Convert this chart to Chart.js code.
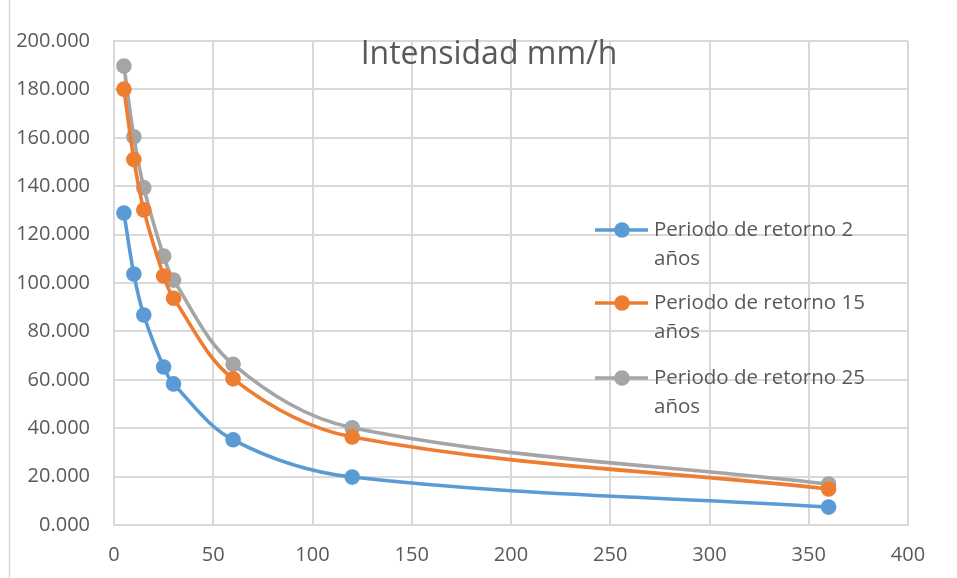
<!DOCTYPE html>
<html>
<head>
<meta charset="utf-8">
<script src="https://cdn.jsdelivr.net/npm/chart.js@4"></script>
<style>
html,body{margin:0;padding:0;background:#fff;}
#wrap{position:relative;width:957px;height:578px;}
</style>
</head>
<body>
<div id="wrap"><canvas id="c" width="957" height="578"></canvas></div>
<script>
const durations = [5, 10, 15, 25, 30, 60, 120, 360];
const seriesNames = ["Periodo de retorno 2 años", "Periodo de retorno 15 años", "Periodo de retorno 25 años"];
const legendLines = [["Periodo de retorno 2", "años"], ["Periodo de retorno 15", "años"], ["Periodo de retorno 25", "años"]];
const t2 = [128.9, 103.7, 86.8, 65.3, 58.3, 35.2, 19.8, 7.4];
const t15 = [180.1, 151.0, 130.2, 102.9, 93.7, 60.4, 36.4, 14.9];
const t25 = [189.7, 160.4, 139.4, 111.1, 101.2, 66.4, 40.2, 16.9];
const colors = ["#5b9bd5", "#ed7d31", "#a5a5a5"];
const chartTitle = "Intensidad mm/h";

const FONT = "'Open Sans', sans-serif";
const TXT = "#595959";

function pts(arr){ return durations.map((x,i)=>({x:x, y:arr[i]})); }
const seriesData = [t2, t15, t25];

const datasets = seriesData.map((arr,i)=>({
  label: seriesNames[i],
  data: pts(arr),
  borderColor: colors[i],
  backgroundColor: colors[i],
  borderWidth: 3.6,
  pointRadius: 7.8,
  pointHoverRadius: 7.8,
  pointBorderWidth: 0,
  showLine: true,
  tension: 0.35,
  fill: false
}));

const overlay = {
  id: 'overlay',
  beforeDraw(chart){
    const ctx = chart.ctx;
    ctx.save();
    ctx.fillStyle = '#fff';
    ctx.fillRect(0,0,chart.width,chart.height);
    ctx.strokeStyle = '#d9d9d9';
    ctx.lineWidth = 1.5;
    ctx.beginPath();
    ctx.moveTo(9.5,0); ctx.lineTo(9.5,chart.height);
    ctx.stroke();
    ctx.restore();
  },
  afterDatasetsDraw(chart){
    const ctx = chart.ctx;
    ctx.save();
    ctx.fillStyle = TXT;
    ctx.font = "32px " + FONT;
    ctx.textAlign = 'center';
    ctx.textBaseline = 'middle';
    ctx.fillText(chartTitle, 489, 55);
    const ys = [230, 303, 378];
    ctx.font = "20.5px " + FONT;
    ctx.textAlign = 'left';
    for (let i=0;i<3;i++){
      const y = ys[i];
      ctx.strokeStyle = colors[i];
      ctx.lineWidth = 3.6;
      ctx.beginPath(); ctx.moveTo(595,y); ctx.lineTo(648,y); ctx.stroke();
      ctx.fillStyle = colors[i];
      ctx.beginPath(); ctx.arc(622,y,7.8,0,Math.PI*2); ctx.fill();
      ctx.fillStyle = TXT;
      ctx.fillText(legendLines[i][0], 654, y);
      ctx.fillText(legendLines[i][1], 654, y+29);
    }
    ctx.restore();
  }
};

new Chart(document.getElementById('c'), {
  type: 'scatter',
  data: { datasets },
  options: {
    responsive: false,
    animation: false,
    layout: { padding: { left: 0, right: 49, top: 41, bottom: 0 } },
    plugins: { legend: { display: false }, tooltip: { enabled: false }, title: { display: false } },
    scales: {
      x: {
        type: 'linear', min: 0, max: 400,
        ticks: { stepSize: 50, color: TXT, font: { family: FONT, size: 20 }, padding: 18 },
        grid: { color: '#d9d9d9', lineWidth: 2, drawTicks: false },
        border: { color: '#d9d9d9', width: 2 },
        afterFit(s){ s.height = 53; }
      },
      y: {
        type: 'linear', min: 0, max: 200,
        ticks: { stepSize: 20, color: TXT, font: { family: FONT, size: 20 }, padding: 24,
          callback: v => Number(v).toFixed(3) },
        grid: { color: '#d9d9d9', lineWidth: 2, drawTicks: false },
        border: { color: '#d9d9d9', width: 2 },
        afterFit(s){ s.width = 114; }
      }
    }
  },
  plugins: [overlay]
});
</script>
</body>
</html>
